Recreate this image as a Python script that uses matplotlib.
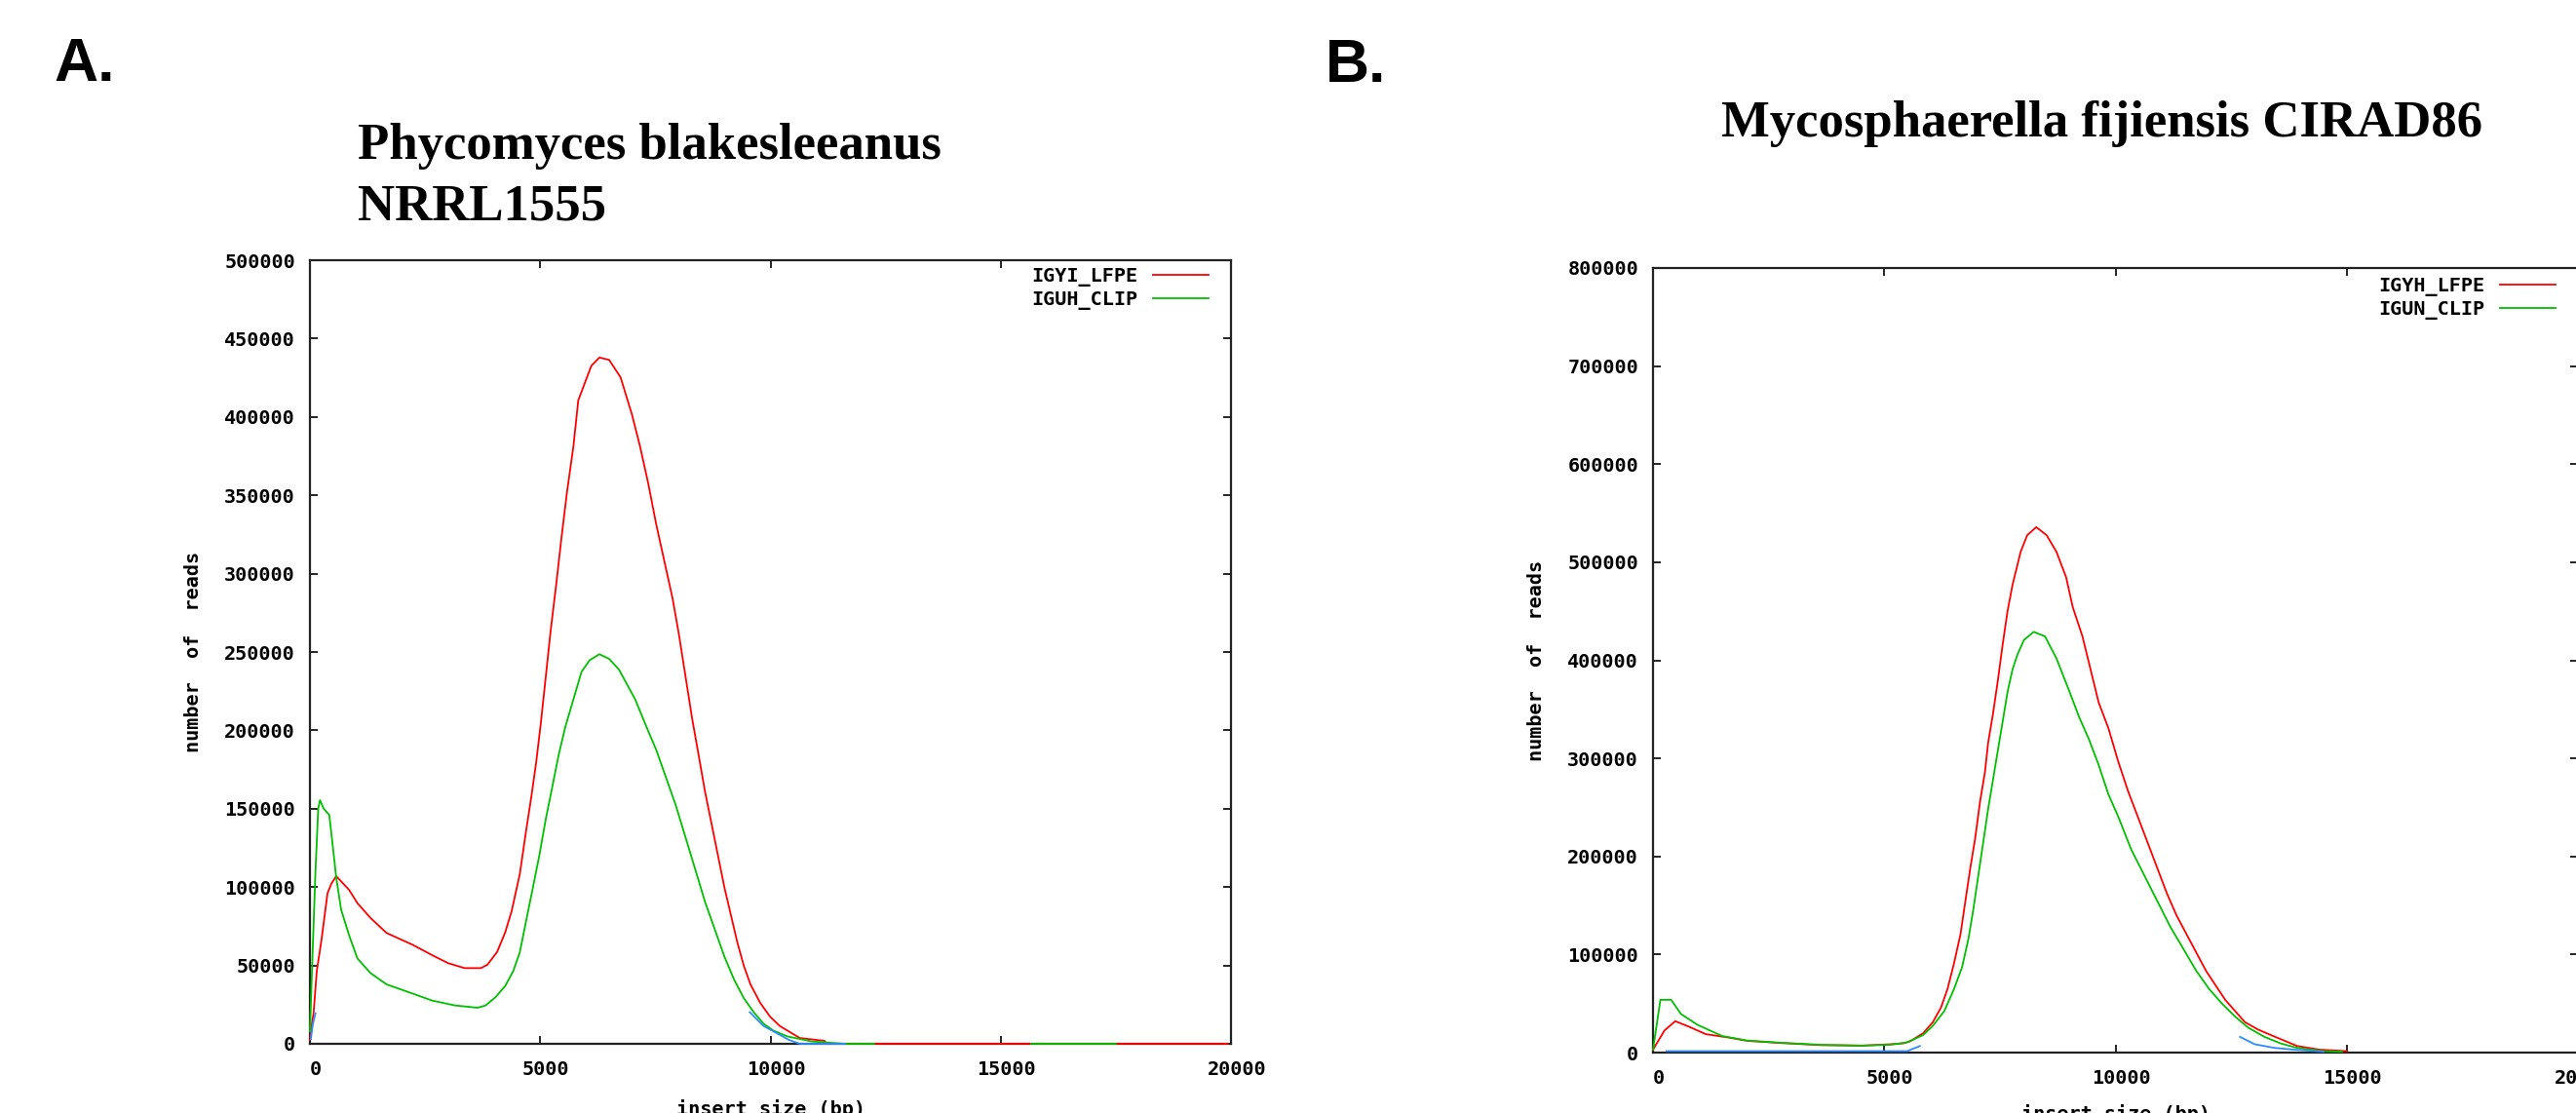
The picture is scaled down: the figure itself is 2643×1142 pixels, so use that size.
import numpy as np
import matplotlib
matplotlib.use("Agg")
import matplotlib.pyplot as plt
import matplotlib.transforms as mtransforms

nan = np.nan

# ---- panel A: Phycomyces blakesleeanus NRRL1555 ----
a_red_x = [0, 21, 78, 148, 254, 381, 466, 571, 853, 1030, 1312, 1665, 2229, 2652, 3005,
           3359, 3711, 3852, 4064, 4240, 4381, 4557, 4684, 4804, 4910, 5016, 5122, 5228,
           5348, 5460, 5581, 5721, 5827, 6110, 6286, 6497, 6745, 6991, 7168, 7344, 7520,
           7697, 7873, 8014, 8155, 8296, 8438, 8578, 8720, 8861, 9002, 9143, 9285, 9424,
           9566, 9778, 9989, 10201, 10637, 11173, 11215, 12250, 15660, 17500, 19930]
a_red_y = [2500, 8900, 19300, 46200, 67000, 96000, 102200, 107000, 98100, 89800, 80400,
           70700, 63200, 56600, 51400, 48300, 48300, 50400, 58600, 71100, 84800, 108300,
           134000, 157000, 179000, 205200, 234500, 263900, 293200, 322500, 351900, 381200,
           410600, 432600, 437900, 436400, 425300, 401700, 381200, 357800, 331400, 307800,
           284400, 260900, 234500, 208100, 184600, 161100, 140500, 120000, 99500, 81900,
           64200, 49600, 37900, 26100, 17400, 11400, 3700, 1900, 0, 0, 0, 0, 0]

a_green_x = [0, 60, 120, 180, 218, 300, 420, 500, 571, 677, 853, 1030, 1312, 1665, 2159,
             2652, 3146, 3640, 3816, 4028, 4240, 4417, 4557, 4698, 4840, 4980, 5122, 5263,
             5403, 5545, 5721, 5898, 6074, 6286, 6497, 6709, 7062, 7308, 7520, 7732, 7943,
             8155, 8367, 8578, 8790, 9002, 9213, 9424, 9636, 9848, 10059, 10369, 10900,
             11620, 12250, nan, 15660, 17500]
a_green_y = [8000, 60000, 110000, 150000, 155500, 150000, 146000, 125000, 106000, 85600,
             69000, 54500, 45200, 37900, 32800, 27600, 24500, 23000, 24500, 29700, 36900,
             46600, 58400, 79000, 99500, 120000, 143500, 164000, 184600, 202200, 219800,
             237400, 244800, 248600, 245600, 238900, 219800, 202200, 187500, 169900,
             152300, 131800, 111300, 90700, 73100, 55500, 40800, 29000, 20200, 12900, 8500,
             4700, 1500, 0, 0, nan, 0, 0]

a_blue_x = [20, 60, 120, nan, 9551, 9848, 10130, 10400, 10637, 11620]
a_blue_y = [3000, 12000, 19500, nan, 20200, 11400, 6900, 2500, 0, 0]

# ---- panel B: Mycosphaerella fijiensis CIRAD86 ----
b_red_x = [0, 249, 481, 783, 1140, 1680, 2030, 2740, 3630, 4520, 5137, 5410, 5559, 5840,
           6051, 6228, 6367, 6508, 6650, 6755, 6861, 6966, 7071, 7177, 7246, 7352, 7457,
           7563, 7668, 7774, 7950, 8091, 8287, 8512, 8723, 8934, 9075, 9286, 9461, 9636,
           9847, 10058, 10269, 10480, 10691, 10902, 11113, 11323, 11534, 11745, 11956,
           12167, 12378, 12589, 12800, 13082, 13363, 13644, 13926, 14410, 15000]
b_red_y = [3000, 22600, 32000, 26300, 18800, 15000, 12000, 9800, 7600, 7000, 8500, 9400,
           11500, 19700, 31000, 46000, 64700, 90900, 120900, 154700, 188300, 218300, 255800,
           285800, 315700, 345700, 379500, 416900, 450700, 476900, 510700, 527500, 535800,
           527500, 510700, 484500, 454400, 424400, 390700, 357000, 330800, 297000, 267000,
           240800, 214600, 188400, 162200, 139600, 120900, 102200, 83500, 68400, 53500,
           42200, 31000, 23500, 17800, 12300, 6700, 3000, 1500]

b_green_x = [0, 160, 392, 603, 962, 1495, 2030, 2740, 3630, 4520, 5137, 5489, 5840, 6051,
             6297, 6508, 6684, 6825, 6930, 7035, 7141, 7246, 7352, 7457, 7563, 7668, 7774,
             7880, 8021, 8232, 8476, 8723, 9004, 9215, 9426, 9636, 9847, 10058, 10340,
             10621, 10902, 11184, 11465, 11745, 12027, 12308, 12589, 12871, 13222, 13574,
             13926, 14500, 14900]
b_green_y = [3000, 53800, 53800, 39400, 28300, 16900, 12300, 10100, 7900, 7200, 8000,
             10300, 17800, 27300, 42200, 64700, 87200, 117100, 147100, 180900, 214600,
             248300, 278300, 308300, 338200, 368200, 390700, 405800, 420700, 429000,
             424400, 402000, 368200, 342000, 319500, 293300, 263300, 240800, 207100,
             180900, 154700, 128400, 106000, 83500, 64700, 49700, 36600, 25400, 16000,
             9300, 4800, 1500, 800]

b_blue_x = [293, 5497, 5770, nan, 12694, 13011, 13433, 13855, 14500]
b_blue_y = [1500, 1500, 6700, nan, 16000, 8500, 4800, 3000, 1000]

W, H = 2643, 1142
MONO = {"family": "DejaVu Sans Mono", "weight": "bold", "size": 14.5}
RED, GREEN, BLUE = "#ff0000", "#00c000", "#2a8cff"

fig = plt.figure(figsize=(W / 100, H / 100), dpi=100)
fig.patch.set_facecolor("white")
# gnuplot puts the x tick labels a few pixels right of the tick
xlab_shift = mtransforms.ScaledTranslation(0.06, 0, fig.dpi_scale_trans)


def make_panel(rect, series, labels, ymax, ystep, legend_anchor, ylab_x, xlab_y):
    ax = fig.add_axes(rect)
    lines = []
    for (x, y), c in zip(series, [RED, GREEN, BLUE]):
        ln, = ax.plot(x, y, color=c, lw=1.3, zorder=3, clip_on=False)
        lines.append(ln)
    ax.set_xlim(0, 20000)
    ax.set_ylim(0, ymax)
    ax.set_xticks(np.arange(0, 20001, 5000))
    ax.set_yticks(np.arange(0, ymax + 1, ystep))
    ax.tick_params(direction="in", length=6, width=1.2, top=True, right=True,
                   colors="black")
    ax.tick_params(axis="x", pad=12)
    ax.tick_params(axis="y", pad=10.8)
    fp = matplotlib.font_manager.FontProperties(**MONO)
    for lab in ax.get_xticklabels():
        lab.set_fontproperties(fp)
        lab.set_transform(lab.get_transform() + xlab_shift)
    for lab in ax.get_yticklabels():
        lab.set_fontproperties(fp)
    for sp in ax.spines.values():
        sp.set_linewidth(1.6)
        sp.set_color("#222222")
    ax.set_ylabel("number  of  reads", fontdict=MONO)
    ax.yaxis.set_label_coords(ylab_x, 0.5)
    ax.set_xlabel("insert size (bp)", fontdict=MONO)
    ax.xaxis.set_label_coords(0.5, xlab_y)
    ax.legend(lines[:2], labels, loc="upper right", bbox_to_anchor=legend_anchor,
              frameon=False, markerfirst=False, prop=fp,
              handlelength=2.84, handletextpad=0.75, borderpad=0, borderaxespad=0,
              labelspacing=0.18)
    return ax


make_panel([318 / W, (H - 1071) / H, 945 / W, 804 / H],
           [(a_red_x, a_red_y), (a_green_x, a_green_y), (a_blue_x, a_blue_y)],
           ["IGYI_LFPE", "IGUH_CLIP"], 500000, 50000,
           (0.9757, 0.9909), -0.1164, -0.0709)

make_panel([1696 / W, (H - 1080) / H, 949 / W, 805 / H],
           [(b_red_x, b_red_y), (b_green_x, b_green_y), (b_blue_x, b_blue_y)],
           ["IGYH_LFPE", "IGUN_CLIP"], 800000, 100000,
           (0.9758, 0.9885), -0.1159, -0.0658)

title_font = {"family": "Liberation Serif", "weight": "bold", "size": 38}
fig.text(367 / W, 1 - 163 / H, "Phycomyces blakesleeanus", va="baseline", **title_font)
fig.text(367 / W, 1 - 226 / H, "NRRL1555", va="baseline", **title_font)
fig.text(1766 / W, 1 - 140 / H, "Mycosphaerella fijiensis CIRAD86", va="baseline", **title_font)

panel_font = {"family": "Liberation Sans", "weight": "bold", "size": 45}
fig.text(55 / W, 1 - 83 / H, "A.", va="baseline", **panel_font)
fig.text(1360 / W, 1 - 84 / H, "B.", va="baseline", **panel_font)

fig.savefig("out.png", dpi=100)
